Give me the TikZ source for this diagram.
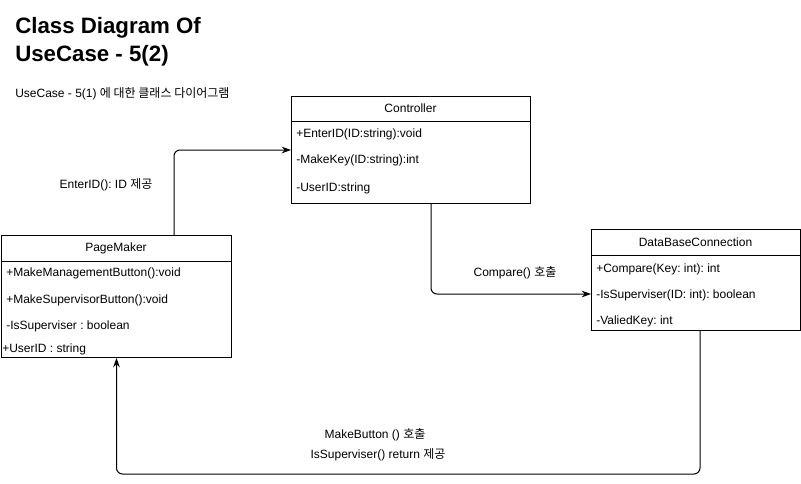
\documentclass[tikz,border=0pt]{standalone}
\usepackage{fontspec}
\setmainfont{Liberation Sans}
\newfontfamily\kr{Noto Sans CJK KR}
\usetikzlibrary{arrows.meta}
\frenchspacing
\newlength\pxu
\setlength\pxu{0.75pt}
\tikzset{
  classbox/.style={draw, line width=\pxu, anchor=north west, inner sep=0pt},
  member/.style={anchor=west, inner sep=0pt, yshift=-1.5\pxu, font=\fontsize{9}{11}\selectfont},
  header/.style={inner sep=0pt, font=\fontsize{9}{11}\selectfont},
  link/.style={line width=\pxu, -{Stealth[length=7pt,width=5pt]}, rounded corners=6\pxu},
  msg/.style={inner sep=0pt, font=\fontsize{9}{11}\selectfont},
}
\begin{document}
\begin{tikzpicture}[x=\pxu, y=-\pxu]
			\useasboundingbox (0,0) rectangle (801,483);
			
			% Titulo
			\node[anchor=north west, inner sep=0pt, align=left, font=\bfseries\fontsize{16.7}{20.8}\selectfont] (title) at (15,17) {Class Diagram Of\\UseCase - 5(2)};
			\node[anchor=west, inner sep=0pt, font=\fontsize{9}{11}\selectfont] (subtitle) at (15,94) {UseCase - 5(1) {\kr 에 대한 클래스 다이어그램}};
			
			% Controller
			\node[classbox, minimum width=239\pxu, minimum height=107\pxu] (ctrl) at (291,96) {};
			\draw[line width=\pxu] (291,121) -- (530,121);
			\node[header] (ctrl-name) at (410.5,108.5) {Controller};
			\node[member] (ctrl-a) at (296,133) {+EnterID(ID:string):void};
			\node[member] (ctrl-b) at (296,159) {-MakeKey(ID:string):int};
			\node[member] (ctrl-c) at (296,187) {-UserID:string};
			
			% PageMaker
			\node[classbox, minimum width=230\pxu, minimum height=122\pxu] (pm) at (1,235) {};
			\draw[line width=\pxu] (1,261) -- (231,261);
			\node[header] (pm-name) at (116,248) {PageMaker};
			\node[member] (pm-a) at (6,272) {+MakeManagementButton():void};
			\node[member] (pm-b) at (6,299) {+MakeSupervisorButton():void};
			\node[member] (pm-c) at (6,325) {-IsSuperviser : boolean};
			\node[member] (pm-d) at (2,348) {+UserID : string};
			
			% DataBaseConnection
			\node[classbox, minimum width=209\pxu, minimum height=101\pxu] (dbc) at (591,229) {};
			\draw[line width=\pxu] (591,255) -- (800,255);
			\node[header] (dbc-name) at (695.5,242) {DataBaseConnection};
			\node[member] (dbc-a) at (596,268) {+Compare(Key: int): int};
			\node[member] (dbc-b) at (596,294) {-IsSuperviser(ID: int): boolean};
			\node[member] (dbc-c) at (596,320) {-ValiedKey: int};
			
			% Setas
			\draw[link] ([xshift=173\pxu]pm.north west) |- (ctrl.west);
			\draw[link] ([xshift=140\pxu]ctrl.south west) |- ([yshift=-65\pxu]dbc.north west);
			\draw[link] ([xshift=109\pxu]dbc.south west) -- ++(0,143) -| (pm.south);
			
			% Mensagens
			\node[msg] (msg-enter) at (106,185) {EnterID(): ID {\kr 제공}};
			\node[msg] (msg-compare) at (515,273) {Compare() {\kr 호출}};
			\node[msg] (msg-make) at (375,435) {MakeButton () {\kr 호출}};
			\node[msg] (msg-return) at (378,455) {IsSuperviser() return {\kr 제공}};
		\end{tikzpicture}
\end{document}
